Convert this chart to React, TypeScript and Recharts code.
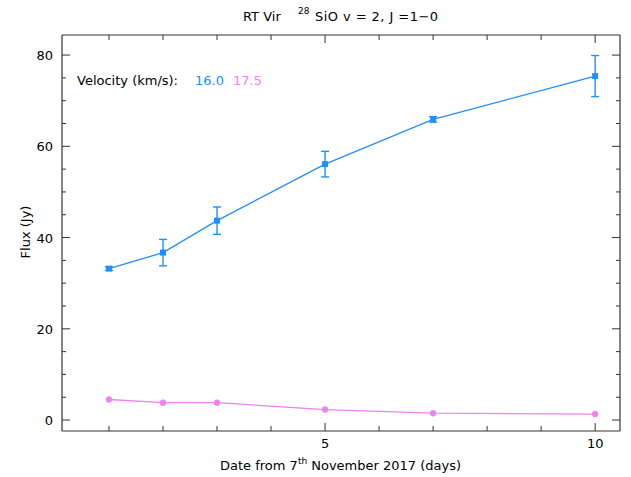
import { ComposedChart, Line, XAxis, YAxis, ErrorBar } from "recharts";

// days since 7 Nov 2017
const days = [1, 2, 3, 5, 7, 10];
// 16.0 km/s component
const flux160 = [33.2, 36.7, 43.7, 56.1, 65.9, 75.4];
const err160 = [0.4, 2.9, 3.0, 2.8, 0.6, 4.5];
// 17.5 km/s component
const flux175 = [4.5, 3.8, 3.8, 2.3, 1.5, 1.3];

const xTicks = [1, 2, 3, 4, 5, 6, 7, 8, 9, 10];
const xLabels = [5, 10];
const yTicks = [0, 5, 10, 15, 20, 25, 30, 35, 40, 45, 50, 55, 60, 65, 70, 75, 80];
const yLabels = [0, 20, 40, 60, 80];

const data = days.map((d, i) => ({
  day: d,
  v160: flux160[i],
  e160: err160[i],
  v175: flux175[i],
}));

const W = 631;
const H = 477;
// axes take 1px each
const M = { top: 34, right: 10, bottom: 45, left: 61 };
const FONT = "'DejaVu Sans', sans-serif";
const AXIS = "#333";
const BLUE = "#1e90ff";
const PINK = "#ee82ee";

const tickFor = (side: "bottom" | "top" | "left" | "right") => (props: any) => {
  const { x, y, payload } = props;
  const v = payload.value;
  if (side === "bottom" || side === "top") {
    const len = xLabels.includes(v) ? 8 : 5;
    const dir = side === "bottom" ? -1 : 1;
    return (
      <g>
        <line x1={x} y1={y} x2={x} y2={y + dir * len} stroke={AXIS} />
        {side === "bottom" && xLabels.includes(v) && (
          <text x={x} y={y + 17} textAnchor="middle" fontSize={13} fontFamily={FONT} fill="#000">
            {v}
          </text>
        )}
      </g>
    );
  }
  const len = yLabels.includes(v) ? 8 : 4;
  const dir = side === "left" ? 1 : -1;
  return (
    <g>
      <line x1={x} y1={y} x2={x + dir * len} y2={y} stroke={AXIS} />
      {side === "left" && yLabels.includes(v) && (
        <text x={x - 9} y={y + 5} textAnchor="end" fontSize={13} fontFamily={FONT} fill="#000">
          {v}
        </text>
      )}
    </g>
  );
};

const Square = (props: any) => {
  const { cx, cy } = props;
  if (cx == null || cy == null) return null;
  return <rect x={cx - 3} y={cy - 3} width={6} height={6} fill={BLUE} />;
};

const axisCommon = {
  type: "number" as const,
  allowDataOverflow: true,
  interval: 0 as const,
  tickSize: 0,
  tickMargin: 0,
  tickLine: false,
  stroke: AXIS,
  axisLine: { stroke: AXIS, strokeWidth: 1.2 },
};

export default function App() {
  return (
    <div style={{ position: "fixed", left: 0, top: 0, width: W, height: H, background: "#fff" }}>
      <ComposedChart width={W} height={H} data={data} margin={M}>
        <XAxis {...axisCommon} dataKey="day" domain={[0.13, 10.46]} ticks={xTicks} height={1} tick={tickFor("bottom")} />
        <XAxis
          {...axisCommon}
          xAxisId="top"
          orientation="top"
          dataKey="day"
          domain={[0.13, 10.46]}
          ticks={xTicks}
          height={1}
          tick={tickFor("top")}
        />
        <YAxis {...axisCommon} domain={[-2.4, 84.4]} ticks={yTicks} width={1} tick={tickFor("left")} />
        <YAxis
          {...axisCommon}
          yAxisId="right"
          orientation="right"
          domain={[-2.4, 84.4]}
          ticks={yTicks}
          width={1}
          tick={tickFor("right")}
        />
        <Line
          dataKey="v175"
          stroke={PINK}
          strokeWidth={1.3}
          dot={{ r: 3, fill: PINK, stroke: PINK, strokeWidth: 0.5 }}
          isAnimationActive={false}
        />
        <Line dataKey="v160" stroke={BLUE} strokeWidth={1.3} dot={<Square />} isAnimationActive={false}>
          <ErrorBar dataKey="e160" direction="y" width={4} stroke={BLUE} strokeWidth={1.4} isAnimationActive={false} />
        </Line>
      </ComposedChart>
      <svg width={W} height={H} style={{ position: "absolute", left: 0, top: 0, pointerEvents: "none" }}>
        <g fontFamily={FONT} fontSize={13} fill="#000">
          <text x={243} y={21}>RT Vir</text>
          <text x={298} y={14} fontSize={9}>28</text>
          <text x={315} y={21} textLength={123} lengthAdjust="spacing">SiO v = 2, J =1−0</text>
          <text x={77} y={85}>Velocity (km/s):</text>
          <text x={195} y={85} fill={BLUE}>16.0</text>
          <text x={233} y={85} fill={PINK}>17.5</text>
          <text x={220} y={470}>
            Date from 7<tspan fontSize={9} dy={-6}>th</tspan>
            <tspan dy={6}>{" November 2017 (days)"}</tspan>
          </text>
          <text x={30} y={232} textAnchor="middle" transform="rotate(-90 30 232)">Flux (Jy)</text>
        </g>
      </svg>
    </div>
  );
}
